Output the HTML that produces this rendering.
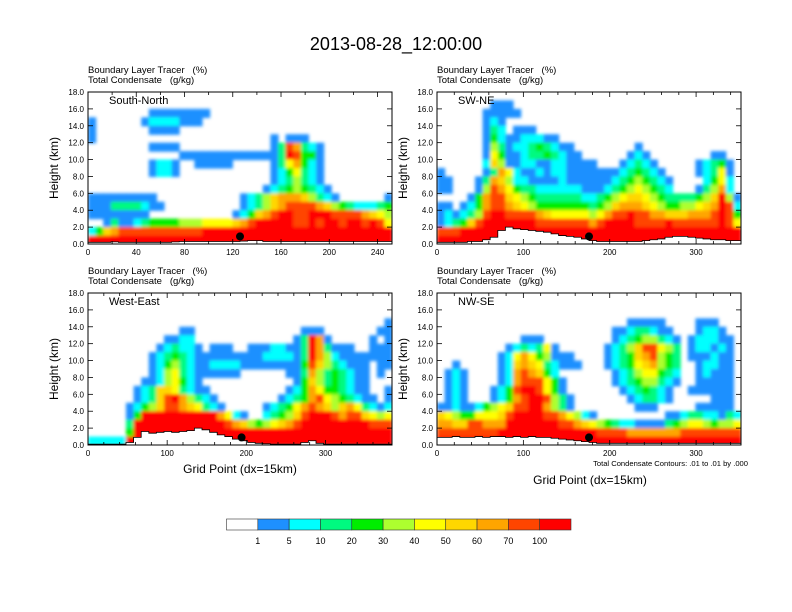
<!DOCTYPE html>
<html><head><meta charset="utf-8"><style>
html,body{margin:0;padding:0;background:#fff;}
svg{display:block;font-family:"Liberation Sans",Arial,sans-serif;}
</style></head><body>
<svg id="fig" width="792" height="612" viewBox="0 0 792 612" xmlns="http://www.w3.org/2000/svg">
<defs><filter id="soft" x="-5%" y="-5%" width="110%" height="110%"><feGaussianBlur stdDeviation="1.6"/></filter></defs>
<rect x="0" y="0" width="792" height="612" fill="#fff"/>
<text x="396" y="50" font-size="18" text-anchor="middle">2013-08-28_12:00:00</text>
<g id="panels"></g>
<g id="colorbar"></g>
<text x="748" y="466" font-size="7.6" text-anchor="end">Total Condensate Contours: .01 to .01 by .000</text>
<text x="240" y="473" font-size="12" text-anchor="middle">Grid Point (dx=15km)</text>
<text x="590" y="484" font-size="12" text-anchor="middle">Grid Point (dx=15km)</text>
</svg>
<script>
const levelColors = ["#ffffff","#1e90ff","#00ffff","#00fa80","#00ee00","#adff2f","#ffff00","#ffd700","#ffa500","#ff4500","#ff0000"];
const levelLabels = ["1","5","10","20","30","40","50","60","70","100"];
const yTicks = [0,2,4,6,8,10,12,14,16,18];

const gridSN = [
"","",
"0000000011111111",
"100000012222111",
"100000001111",
"100000000000000000000000101110",
"0000000011110000000000001398321",
"00000000000011111111111113a9441",
"0000000012210011111000001368421",
"0000000012210000000000001246321",
"0000000000000000000000001235321",
"000000000000000000000001234543210",
"1111111110000000000012357888753210000001",
"1113333211000000000012357899998754322234",
"1111111100000000000124789aa99aaa99998765",
"0013112344445556666789aaaaa99a9aa9aa9a96",
"247899999999999aaaaaaaaaaaaaaaaaaaaaaaaa",
"aaaaaaaaaaaaaaaaaaaaaaaaaaaaaaaaaaaaaaaa"];
const terrainSN = [0.2,0.2,0.2,0.25,0.2,0.2,0.2,0.2,0.2,0.2,0.2,0.25,0.3,0.3,0.3,0.3,0.3,0.3,0.3,0.3,0.35,0.4,0.4,0.3,0.3,0.3,0.3,0.3,0.3,0.3,0.3,0.3,0.3,0.3,0.3,0.3,0.3,0.3,0.3,0.3];

const gridSWNE = [
"",
"0000000111",
"00000011111",
"000000121",
"0000001320111",
"0000001421122211",
"00000015312234321100000000100000000000000",
"000000164112334321100000012100000000110",
"0000002751122112211110001232100000123410",
"1000001386211212211111112343210000123610",
"1100013875221111211111123454321000024620",
"1100015986433222222111234565432000135820",
"0000148997654333333223456776543333457a51",
"1101248998765444444434578887654455678a92",
"1212359aa9999876666656899a99887778889a94",
"123479aaaaaaa999999989aaaa9999a999999a96",
"999aaaaaaaaaaaaaaaaaaaaaaaaaaaaaaaaaaaaa",
"aaaaaaaaaaaaaaaaaaaaaaaaaaaaaaaaaaaaaaaa"];
const terrainSWNE = [0.2,0.2,0.2,0.2,0.3,0.3,0.5,0.8,1.6,2.0,1.8,1.7,1.6,1.5,1.4,1.2,1.0,0.9,0.8,0.6,0.4,0.3,0.3,0.3,0.3,0.3,0.3,0.4,0.5,0.6,0.8,0.9,0.9,0.8,0.7,0.6,0.5,0.5,0.4,0.4];

const gridWE = [
"","","",
"0000000000000000000000000000000000000001",
"0000000000001100000000000000111000000011",
"00000000001122000000000000013a8100000101",
"00000000012322101110011122113a8311100111",
"00000000123432111111111222213a8521111111",
"0000000012453211222211111111497532111011",
"0000000012563211111100000011385343211010",
"0000000112564210000000000001475343211000",
"0000001237763211000000000012486443211001",
"00000012379a8532100000000123489654321101",
"0000012457998763210000012346898757863212",
"0000014aaaaaaaaaa862100234579aaa98997656",
"000003aaaaaaaaaaaa9875456789aaaaaaaaa999",
"000004aaaaaaaaaaaaaaaaaaaaaaaaaaaaaaaaaa",
"22222aaaaaaaaaaaaaaaaaaaaaaaaaaaaaaaaaaa"];
const terrainWE = [0.1,0.1,0.1,0.1,0.1,0.3,0.9,1.6,1.4,1.5,1.6,1.5,1.6,1.7,2.0,1.8,1.5,1.2,1.0,0.7,0.5,0.3,0.2,0.15,0.1,0.1,0.1,0.1,0.3,0.5,0.2,0.1,0.1,0.1,0.1,0.1,0.1,0.1,0.1,0.1];

const gridNWSE = [
"","","",
"0000000000000000000000000111110000111",
"00000000000000000000000112332110001221",
"0000000000011100000000012345532101222110",
"0000000001232361000000123579965301221210",
"0000000012686451110000123478954301112110",
"0010000012787632111000123467854300122110",
"0121000012898742000000012356643200121110",
"0121000012899964100000012345532100111110",
"01210001249aa96410000000123432100111111",
"012100012489aa95310000000123321000001110",
"112112456799aa85310000000011100000111110",
"7654466679aaaa99865210000000001123322132",
"887799888aaaaaaa998765432211113456654556",
"99999999aaaaaaaaaaaaa9999888888899999999",
"aaaaaaaaaaaaaaaaaaaaaaaaaaaaaaaaaaaaaaaa"];
const terrainNWSE = [0.9,0.9,1.0,0.9,0.9,1.0,0.9,1.0,1.0,0.9,1.0,0.9,1.0,0.9,0.9,0.8,0.7,0.6,0.5,0.4,0.3,0.2,0.2,0.2,0.2,0.2,0.2,0.2,0.2,0.2,0.2,0.2,0.2,0.2,0.2,0.2,0.2,0.2,0.2,0.2];

const sitePointX = [126,176,194,176];
const sitePointZ = [0.9,0.9,0.9,0.9];

const NS = "http://www.w3.org/2000/svg";
function mk(tag, attrs, parent){
  const e = document.createElementNS(NS, tag);
  for (const k in attrs) e.setAttribute(k, attrs[k]);
  if (parent) parent.appendChild(e);
  return e;
}
const panels = [
 {id:"south-north", title:"South-North", x:88, y:92, w:304, h:152, xmax:252, major:[0,40,80,120,160,200,240], minor:20, grid:gridSN, terrain:terrainSN},
 {id:"sw-ne", title:"SW-NE", x:437, y:92, w:304, h:152, xmax:352, major:[0,100,200,300], minor:20, grid:gridSWNE, terrain:terrainSWNE},
 {id:"west-east", title:"West-East", x:88, y:293, w:304, h:152, xmax:384, major:[0,100,200,300], minor:20, grid:gridWE, terrain:terrainWE},
 {id:"nw-se", title:"NW-SE", x:437, y:293, w:304, h:152, xmax:352, major:[0,100,200,300], minor:20, grid:gridNWSE, terrain:terrainNWSE}
];
const root = document.getElementById("panels");
const defs = document.querySelector("defs");
panels.forEach((p, pi) => {
  const g = mk("g", {}, root);
  
  
  const cp = mk("clipPath", {id:"clip" + pi}, defs);
  mk("rect", {x:p.x, y:p.y, width:p.w, height:p.h}, cp);
  const xs = v => p.x + v / p.xmax * p.w;
  const ys = v => p.y + p.h - v / 18 * p.h;
  const nr = p.grid.length, NC = 40;
  const cw = p.w / NC, rh = p.h / nr;
  const clipG = mk("g", {"clip-path":"url(#clip" + pi + ")"}, g);
  const field = mk("g", {filter:"url(#soft)"}, clipG);
  
  
  for (let r = 0; r < nr; r++) {
    const row = (p.grid[r] + "0".repeat(NC)).slice(0, NC);
    for (let c = 0; c < NC; c++) {
      const lv = parseInt(row[c], 16);
      if (!lv) continue;
      const cell = mk("rect", {x:(p.x + c*cw).toFixed(2), y:(p.y + r*rh).toFixed(2), width:(cw+0.6).toFixed(2), height:(rh+0.6).toFixed(2), fill:levelColors[lv]}, field);
      
      
    }
  }
  let d = "M" + p.x + "," + (p.y + p.h);
  let line = "";
  p.terrain.forEach((t, i) => {
    const x0 = p.x + i*cw, x1 = p.x + (i+1)*cw, yy = ys(t);
    d += " L" + x0.toFixed(2) + "," + yy.toFixed(2) + " L" + x1.toFixed(2) + "," + yy.toFixed(2);
    line += (i ? " L" : "M") + x0.toFixed(2) + "," + yy.toFixed(2) + " L" + x1.toFixed(2) + "," + yy.toFixed(2);
  });
  d += " L" + (p.x + p.w) + "," + (p.y + p.h) + " Z";
  const ter = mk("path", {d:d, fill:"#fff"}, g);
  
  
  const tl = mk("path", {d:line, fill:"none", stroke:"#000", "stroke-width":"0.8"}, g);
  
  
  const dot = mk("circle", {cx:xs(sitePointX[pi]), cy:ys(sitePointZ[pi]), r:4, fill:"#000"}, g);
  
  
  const fr = mk("rect", {x:p.x, y:p.y, width:p.w, height:p.h, fill:"none", stroke:"#000", "stroke-width":"1"}, g);
  
  
  yTicks.forEach(v => {
    const yy = ys(v);
    mk("line", {x1:p.x, x2:p.x+5, y1:yy, y2:yy, stroke:"#000", "stroke-width":"0.8"}, g);
    mk("line", {x1:p.x+p.w, x2:p.x+p.w-5, y1:yy, y2:yy, stroke:"#000", "stroke-width":"0.8"}, g);
    const tx = mk("text", {x:p.x-4, y:yy+3, "font-size":"8", "text-anchor":"end"}, g);
    tx.textContent = v.toFixed(1);
    
    
  });
  for (let v = 0; v <= p.xmax; v += p.minor) {
    const xx = xs(v), big = p.major.includes(v);
    const L = big ? 5 : 3;
    mk("line", {x1:xx, x2:xx, y1:p.y+p.h, y2:p.y+p.h-L, stroke:"#000", "stroke-width":"0.8"}, g);
    mk("line", {x1:xx, x2:xx, y1:p.y, y2:p.y+L, stroke:"#000", "stroke-width":"0.8"}, g);
  }
  p.major.forEach(v => {
    const tx = mk("text", {x:xs(v), y:p.y+p.h+11, "font-size":"8", "text-anchor":"middle"}, g);
    tx.textContent = String(v);
    
    
  });
  const yt = mk("text", {x:0, y:0, "font-size":"12", "text-anchor":"middle", transform:"translate(" + (p.x-30) + "," + (p.y+p.h/2) + ") rotate(-90)"}, g);
  yt.textContent = "Height (km)";
  
  
  const h1 = mk("text", {x:p.x, y:p.y-19, "font-size":"9.5"}, g);
  h1.textContent = "Boundary Layer Tracer   (%)";
  h1.style.whiteSpace = "pre";
  
  
  const h2 = mk("text", {x:p.x, y:p.y-9, "font-size":"9.5"}, g);
  h2.textContent = "Total Condensate   (g/kg)";
  h2.style.whiteSpace = "pre";
  
  
  const nm = mk("text", {x:p.x+21, y:p.y+12, "font-size":"11"}, g);
  nm.textContent = p.title;
  
  
});
const cb = document.getElementById("colorbar");
const cbX = 226.5, cbW = 344.5, cbY = 519, cbH = 11;
const bw = cbW / levelColors.length;
levelColors.forEach((c, i) => {
  const r = mk("rect", {x:cbX + i*bw, y:cbY, width:bw, height:cbH, fill:c, stroke:"#333", "stroke-width":"0.6"}, cb);
  
  
});
levelLabels.forEach((t, i) => {
  const tx = mk("text", {x:cbX + (i+1)*bw, y:cbY+cbH+14, "font-size":"9", "text-anchor":"middle"}, cb);
  tx.textContent = t;
  
  
});
</script>
</body></html>
